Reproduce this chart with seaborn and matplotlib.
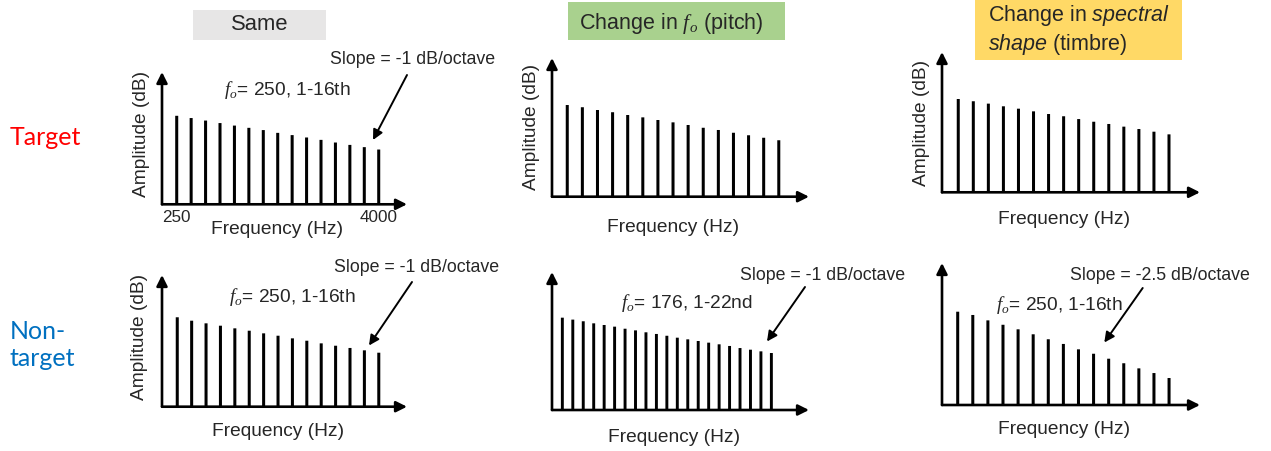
import numpy as np
import pandas as pd
import matplotlib
matplotlib.use("Agg")
import matplotlib.pyplot as plt
from matplotlib.patches import Rectangle, FancyArrowPatch
import seaborn as sns

# ---- harmonic levels (dB, on a 0-100 axis) ----
same_target_levels = [66.9, 65.2, 63.3, 61.4, 59.5, 57.8, 56.1, 54.0, 52.3, 50.5, 48.7, 46.7, 44.9, 43.2, 41.4]
pitch_target_levels = [66.1, 64.5, 62.5, 60.9, 58.9, 57.2, 55.3, 53.6, 51.7, 49.7, 48.1, 46.1, 44.3, 42.5, 40.7]
timbre_target_levels = [66.5, 64.9, 63.2, 61.3, 59.6, 57.7, 55.8, 54.2, 52.2, 50.3, 48.7, 46.8, 45.1, 43.2, 41.3]
same_nontarget_levels = [67.9, 65.3, 63.3, 61.5, 59.5, 57.7, 55.7, 53.9, 51.9, 50.1, 48.1, 46.3, 44.6, 42.8, 41.0]
pitch_nontarget_levels = [66.9, 65.5, 64.3, 62.8, 61.6, 60.4, 58.9, 57.7, 56.3, 55.1, 53.8,
                          52.4, 51.2, 50.0, 48.8, 47.6, 46.4, 44.9, 43.7, 42.5, 41.3]
timbre_nontarget_levels = [65.7, 63.4, 59.6, 56.5, 53.3, 49.8, 46.3, 43.0, 39.2, 36.1, 32.6, 29.4, 25.8, 22.5, 19.0]

# ---- text ----
column_titles = ["Same",
                 r"Change in $\mathcal{f}_{\mathcal{o}}$ (pitch)",
                 "Change in $\\mathit{spectral}$\n$\\mathit{shape}$ (timbre)"]
row_labels = ["Target", "Non-\ntarget"]
fo_labels = [r"$\mathcal{f}_{\mathcal{o}}$= 250, 1-16th",
             r"$\mathcal{f}_{\mathcal{o}}$= 250, 1-16th",
             r"$\mathcal{f}_{\mathcal{o}}$= 176, 1-22nd",
             r"$\mathcal{f}_{\mathcal{o}}$= 250, 1-16th"]
slope_labels = ["Slope = -1 dB/octave", "Slope = -1 dB/octave",
                "Slope = -1 dB/octave", "Slope = -2.5 dB/octave"]
freq_tick_labels = ["250", "4000"]
x_label = "Frequency (Hz)"
y_label = "Amplitude (dB)"

W, H = 1271, 451
sns.set_theme(style="white")
plt.rcParams["font.family"] = ["Liberation Sans", "DejaVu Sans"]
plt.rcParams["mathtext.fontset"] = "custom"
plt.rcParams["mathtext.rm"] = "Liberation Sans"
plt.rcParams["mathtext.it"] = "Liberation Sans:italic"
plt.rcParams["mathtext.cal"] = "Liberation Serif:italic"

fig = plt.figure(figsize=(W / 100, H / 100), dpi=100)
fig.patch.set_facecolor("white")


def fx(x):
    return x / W


def fy(y):
    return 1 - y / H


# panel layout: (left, top, right, bottom) in pixels, x-limits in harmonic units, bar width
panels = [
    dict(levels=same_target_levels, box=(162, 72, 407, 204.3), xlim=(-0.02, 16.96), width=0.21),
    dict(levels=pitch_target_levels, box=(552, 58, 809, 196.7), xlim=(-0.01, 17.0), width=0.2),
    dict(levels=timbre_target_levels, box=(942, 52, 1200, 192.3), xlim=(-0.08, 17.06), width=0.2),
    dict(levels=same_nontarget_levels, box=(162, 275, 407, 406.7), xlim=(-0.06, 16.96), width=0.21),
    dict(levels=pitch_nontarget_levels, box=(552, 272, 809, 410), xlim=(0.01, 24.6), width=0.28),
    dict(levels=timbre_nontarget_levels, box=(942, 263, 1200, 405), xlim=(-0.04, 17.05), width=0.2),
]

axes = []
for p in panels:
    l, t, r, b = p["box"]
    ax = fig.add_axes([fx(l), fy(b), (r - l) / W, (b - t) / H])
    ax.patch.set_visible(False)
    df = pd.DataFrame({"harmonic": np.arange(1, len(p["levels"]) + 1), "level": p["levels"]})
    sns.barplot(data=df, x="harmonic", y="level", native_scale=True, width=p["width"],
                color="black", saturation=1, linewidth=0, errorbar=None, ax=ax)
    for bar in ax.patches:
        bar.set_snap(False)
    ax.set_xlim(*p["xlim"])
    ax.set_ylim(0, 100)
    for s in ax.spines.values():
        s.set_visible(False)
    ax.set_xticks([])
    ax.set_yticks([])
    ax.set_xlabel("")
    ax.set_ylabel("")
    # arrowed axes
    for end in [(1, 0), (0, 1)]:
        ax.annotate("", xy=end, xytext=(0, 0), xycoords="axes fraction",
                    arrowprops=dict(arrowstyle="-|>", color="black", lw=1.9,
                                    mutation_scale=16, shrinkA=0, shrinkB=0),
                    annotation_clip=False)
    axes.append(ax)

# frequency end labels on the first panel
axes[0].set_xticks([1, len(same_target_levels)], freq_tick_labels, fontsize=12.3)
axes[0].tick_params(axis="x", length=0, pad=4)

# axis labels
for cx, cy in [(277, 230), (673, 227), (1064, 220), (278, 432), (674, 438), (1064, 430)]:
    fig.text(fx(cx), fy(cy), x_label, ha="center", va="center", fontsize=13.8)
for cx, cy in [(142, 134), (532, 127), (921.5, 122.5), (140, 337)]:
    fig.text(fx(cx), fy(cy), y_label, ha="center", va="center", rotation=90, fontsize=13.8)

# column title boxes
title_boxes = [((193, 10, 326, 40), "#e7e6e6"), ((568, 2, 785, 40), "#a9d18e"), ((975, 0, 1182, 60), "#ffd966")]
for (l, t, r, b), col in title_boxes:
    fig.add_artist(Rectangle((fx(l), fy(b)), (r - l) / W, (b - t) / H, transform=fig.transFigure,
                             facecolor=col, edgecolor="none", zorder=0))
fig.text(fx(259.5), fy(25), column_titles[0], ha="center", va="center", fontsize=15.8)
fig.text(fx(671), fy(23), column_titles[1], ha="center", va="center", fontsize=15.5)
fig.text(fx(988), fy(30), column_titles[2], ha="left", va="center", fontsize=15.5, linespacing=1.25)

# row labels
fig.text(fx(10), fy(138), row_labels[0], ha="left", va="center", fontsize=18,
         color="#ff0000", family=["Lato", "DejaVu Sans"])
fig.text(fx(10), fy(345), row_labels[1], ha="left", va="center", fontsize=18,
         color="#0070c0", family=["Lato", "DejaVu Sans"], linespacing=1.25)

# annotations: fundamental/harmonics and slope arrows
fo_pos = [(287, 90), (292.5, 297), (686.7, 303), (1059, 305)]
slope_pos = [(413, 60), (416.7, 268), (822.5, 276), (1160, 275)]
arrows = [((407, 75), (373, 140)), ((412, 282), (369, 345.5)),
          ((805, 287), (767, 341.5)), ((1142.7, 288), (1104.3, 342.5))]
for (x, y), txt in zip(fo_pos, fo_labels):
    fig.text(fx(x), fy(y), txt, ha="center", va="center", fontsize=13.8)
for (x, y), txt in zip(slope_pos, slope_labels):
    fig.text(fx(x), fy(y), txt, ha="center", va="center", fontsize=12.8)
for (x0, y0), (x1, y1) in arrows:
    fig.add_artist(FancyArrowPatch((fx(x0), fy(y0)), (fx(x1), fy(y1)), transform=fig.transFigure,
                                   arrowstyle="-|>", mutation_scale=15, lw=1.4, color="black",
                                   shrinkA=0, shrinkB=0))

fig.savefig("out.png", dpi=100)
